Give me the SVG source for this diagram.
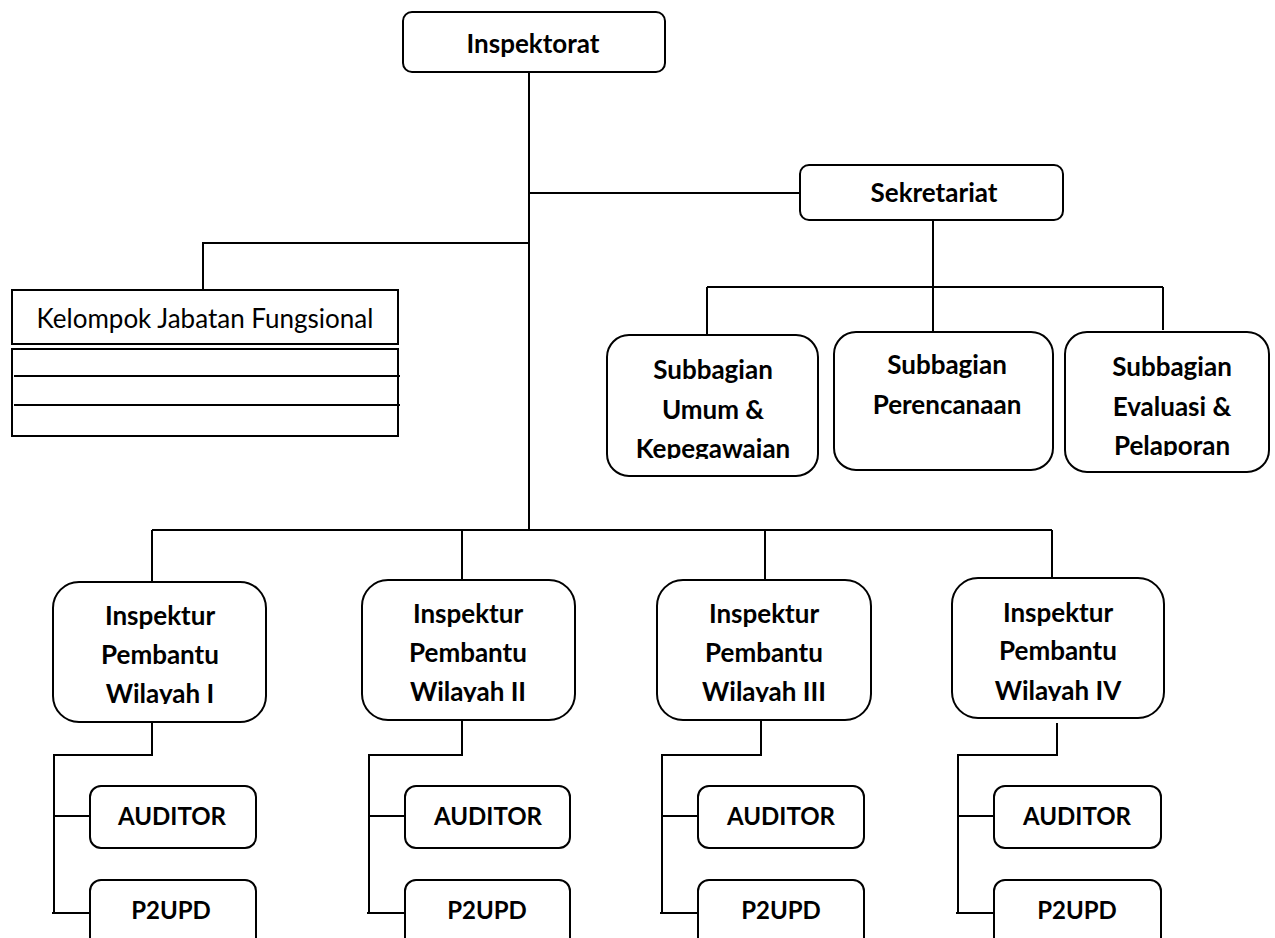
<svg xmlns="http://www.w3.org/2000/svg" width="1275" height="938" viewBox="0 0 1275 938">
<style>
.box{fill:#fff;stroke:#000;stroke-width:2}
.ln{fill:none;stroke:#000;stroke-width:2}
.t{font-family:Lato,"Open Sans",sans-serif;font-weight:bold;font-size:26px;text-anchor:middle;fill:#000}
.s{font-size:24px}
.r{font-family:Lato,"Open Sans",sans-serif;font-size:26px;text-anchor:middle;fill:#000}
</style>
<defs>
<clipPath id="c703"><rect x="0" y="0" width="1275" height="704"/></clipPath>
<clipPath id="c701"><rect x="0" y="0" width="1275" height="702"/></clipPath>
<clipPath id="c700"><rect x="0" y="0" width="1275" height="701"/></clipPath>
<clipPath id="c458"><rect x="0" y="0" width="1275" height="459"/></clipPath>
<clipPath id="c455"><rect x="0" y="0" width="1275" height="456"/></clipPath>
</defs>
<rect width="1275" height="938" fill="#fff"/>
<g id="connectors">
<path class="ln" d="M529 72V530M529 193H800M529 243H203V290M933 220V333M707 287H1163M707 287V335M1163 287V330"/>
<path class="ln" d="M152 530H1052M152 530V583M462 530V580M765 530V580M1052 530V578"/>
<path class="ln" d="M152 722V755H54V913M54 816H90M52 913H90"/>
<path class="ln" d="M462 720V755H369V913M369 816H405M367 913H405"/>
<path class="ln" d="M761 720V755H662V913M662 816H698M660 913H698"/>
<path class="ln" d="M1057 723V755H958V913M958 816H994M956 913H994"/>
</g>
<g id="inspektorat"><rect class="box" x="403" y="12" width="262" height="60" rx="9"/><text class="t" x="533" y="53">Inspektorat</text></g>
<g id="sekretariat"><rect class="box" x="800" y="165" width="263" height="55" rx="9"/><text class="t" x="934" y="202">Sekretariat</text></g>
<g id="kjf"><rect class="box" x="12" y="290" width="386" height="54"/><text class="r" x="205" y="328">Kelompok Jabatan Fungsional</text>
<rect class="box" x="12" y="349" width="386" height="87"/><path class="ln" d="M14 376H400M14 405H400"/></g>
<g id="sub-umum"><rect class="box" x="607" y="335" width="211" height="141" rx="22"/><text class="t" x="713" y="379">Subbagian</text><text class="t" x="713" y="419">Umum &amp;</text><text class="t" x="713" y="458" clip-path="url(#c458)">Kepegawaian</text></g>
<g id="sub-perencanaan"><rect class="box" x="834" y="332" width="219" height="138" rx="22"/><text class="t" x="947" y="374">Subbagian</text><text class="t" x="947" y="414">Perencanaan</text></g>
<g id="sub-evaluasi"><rect class="box" x="1065" y="332" width="204" height="140" rx="22"/><text class="t" x="1172" y="376">Subbagian</text><text class="t" x="1172" y="416">Evaluasi &amp;</text><text class="t" x="1172" y="455" clip-path="url(#c455)">Pelaporan</text></g>
<g id="irban-1"><rect class="box" x="53" y="582" width="213" height="140" rx="26"/><text class="t" x="160" y="625">Inspektur</text><text class="t" x="160" y="664">Pembantu</text><text class="t" x="160" y="703" clip-path="url(#c703)">Wilayah I</text></g>
<g id="irban-2"><rect class="box" x="362" y="580" width="213" height="140" rx="26"/><text class="t" x="468" y="623">Inspektur</text><text class="t" x="468" y="662">Pembantu</text><text class="t" x="468" y="701" clip-path="url(#c701)">Wilayah II</text></g>
<g id="irban-3"><rect class="box" x="657" y="580" width="214" height="140" rx="26"/><text class="t" x="764" y="623">Inspektur</text><text class="t" x="764" y="662">Pembantu</text><text class="t" x="764" y="701" clip-path="url(#c701)">Wilayah III</text></g>
<g id="irban-4"><rect class="box" x="952" y="578" width="212" height="140" rx="26"/><text class="t" x="1058" y="622">Inspektur</text><text class="t" x="1058" y="660">Pembantu</text><text class="t" x="1058" y="700" clip-path="url(#c700)">Wilayah IV</text></g>
<g id="auditor-1"><rect class="box" x="90" y="786" width="166" height="62" rx="11"/><text class="t s" x="172" y="825">AUDITOR</text></g>
<g id="p2upd-1"><rect class="box" x="90" y="880" width="166" height="70" rx="11"/><text class="t s" x="171" y="919">P2UPD</text></g>
<g id="auditor-2"><rect class="box" x="405" y="786" width="165" height="62" rx="11"/><text class="t s" x="488" y="825">AUDITOR</text></g>
<g id="p2upd-2"><rect class="box" x="405" y="880" width="165" height="70" rx="11"/><text class="t s" x="487" y="919">P2UPD</text></g>
<g id="auditor-3"><rect class="box" x="698" y="786" width="166" height="62" rx="11"/><text class="t s" x="781" y="825">AUDITOR</text></g>
<g id="p2upd-3"><rect class="box" x="698" y="880" width="166" height="70" rx="11"/><text class="t s" x="781" y="919">P2UPD</text></g>
<g id="auditor-4"><rect class="box" x="994" y="786" width="167" height="62" rx="11"/><text class="t s" x="1077" y="825">AUDITOR</text></g>
<g id="p2upd-4"><rect class="box" x="994" y="880" width="167" height="70" rx="11"/><text class="t s" x="1077" y="919">P2UPD</text></g>
</svg>
